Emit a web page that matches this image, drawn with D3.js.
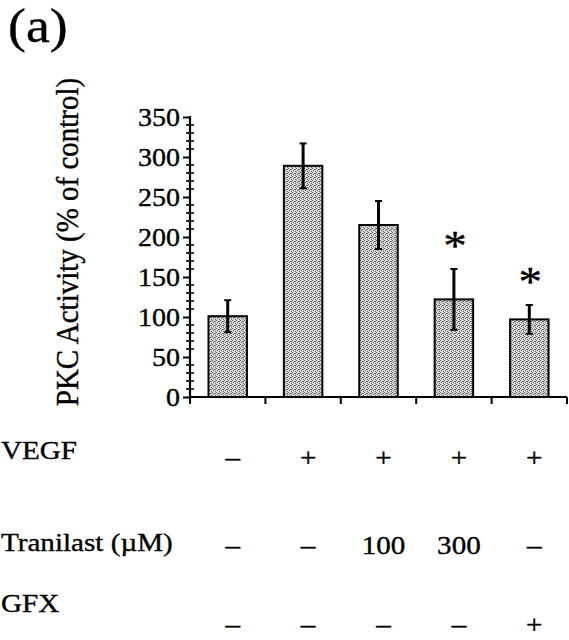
<!DOCTYPE html>
<html>
<head>
<meta charset="utf-8">
<script src="https://cdn.jsdelivr.net/npm/d3@7"></script>
<style>
  html, body { margin: 0; padding: 0; background: #fff; }
  svg { display: block; }
  text { font-family: "Liberation Serif", "Times New Roman", serif; fill: #000; stroke: #000; stroke-width: 0.35; }
</style>
</head>
<body>
<svg id="chart" width="569" height="640"></svg>
<script>
// ---- data ----
const groups = ["g1", "g2", "g3", "g4", "g5"];
const values = [101, 289, 215, 122, 97];
const errors = [20, 28, 30, 38, 18];
const significant = [false, false, false, true, true];
const yTicks = [0, 50, 100, 150, 200, 250, 300, 350];
const rowLabels = ["VEGF", "Tranilast (\u00B5M)", "GFX"];
const vegfRow = ["\u2013", "+", "+", "+", "+"];
const tranilastRow = ["\u2013", "\u2013", "100", "300", "\u2013"];
const gfxRow = ["\u2013", "\u2013", "\u2013", "\u2013", "+"];
const panelLabel = "(a)";
const yLabel = "PKC Activity (% of control)";

// ---- layout ----
const svg = d3.select("#chart");
const SX = 1.12; // horizontal stretch of type in the reference
const x = d3.scaleBand().domain(groups).range([190, 567]).paddingInner(0.49).paddingOuter(0.245);
const y = d3.scaleLinear().domain([0, 350]).range([397, 117]);

function stretchedText(g, tx, ty, str, size, anchor, rotate) {
  return g.append("text")
    .attr("transform", `translate(${tx},${ty})` + (rotate ? ` rotate(${rotate})` : "") + (rotate ? ` scale(1,${SX})` : ` scale(${SX},1)`))
    .attr("font-size", size)
    .attr("text-anchor", anchor)
    .text(str);
}

// pattern for stippled bars
const defs = svg.append("defs");
const pat = defs.append("pattern").attr("id", "stipple").attr("patternUnits", "userSpaceOnUse")
  .attr("width", 4).attr("height", 4);
pat.append("rect").attr("width", 4).attr("height", 4).attr("fill", "#d6d6d6");
[[0,0],[2,1],[1,2],[3,3],[3,1]].forEach(([px,py]) => {
  pat.append("rect").attr("x", px).attr("y", py).attr("width", 1).attr("height", 1).attr("fill", "#6a6a6a");
});

// panel label
stretchedText(svg, 8, 42, panelLabel, 48, "start");

// y axis label
stretchedText(svg, 78, 242, yLabel, 29, "middle", -90);

// y axis with major ticks
const yAxis = svg.append("g").attr("transform", "translate(190,0)")
  .call(d3.axisLeft(y).tickValues(yTicks).tickSize(7).tickSizeOuter(0).tickFormat(""));
yAxis.select(".domain").remove();
yAxis.selectAll(".tick line").attr("stroke", "#000").attr("stroke-width", 2);

// minor ticks
const minor = d3.range(0, 351, 10).filter(v => v % 50 !== 0);
svg.append("g").selectAll("line").data(minor).join("line")
  .attr("x1", 186).attr("x2", 194)
  .attr("y1", d => y(d)).attr("y2", d => y(d))
  .attr("stroke", "#000").attr("stroke-width", 1.6);

// tick labels
const tl = svg.append("g");
yTicks.forEach(v => stretchedText(tl, 180, y(v) + 9, String(v), 25, "end"));

// axis lines
const x0 = x.range()[0], x1 = x.range()[1];
svg.append("line").attr("x1", 190).attr("x2", 190).attr("y1", y(350) - 1).attr("y2", y(0) + 6)
  .attr("stroke", "#000").attr("stroke-width", 2.2);
svg.append("line").attr("x1", x0).attr("x2", x1).attr("y1", y(0)).attr("y2", y(0))
  .attr("stroke", "#000").attr("stroke-width", 2.2);
// category separators
const bounds = d3.range(groups.length + 1).map(i => x0 + i * x.step());
svg.append("g").selectAll("line").data(bounds).join("line")
  .attr("x1", d => d).attr("x2", d => d)
  .attr("y1", y(0)).attr("y2", y(0) + 7)
  .attr("stroke", "#000").attr("stroke-width", 2);

// bars
svg.append("g").selectAll("rect").data(groups).join("rect")
  .attr("x", d => x(d))
  .attr("y", (d, i) => y(values[i]))
  .attr("width", x.bandwidth())
  .attr("height", (d, i) => y(0) - y(values[i]))
  .attr("fill", "url(#stipple)")
  .attr("stroke", "#000").attr("stroke-width", 2);

// error bars
const eb = svg.append("g");
groups.forEach((g, i) => {
  const cx = x(g) + x.bandwidth() / 2;
  const top = y(values[i] + errors[i]);
  const bot = y(values[i] - errors[i]);
  eb.append("line").attr("x1", cx).attr("x2", cx).attr("y1", top).attr("y2", bot)
    .attr("stroke", "#000").attr("stroke-width", 3);
  [top, bot].forEach(yy => eb.append("line").attr("x1", cx - 3.5).attr("x2", cx + 3.5)
    .attr("y1", yy).attr("y2", yy).attr("stroke", "#000").attr("stroke-width", 2));
});

// significance asterisks
groups.forEach((g, i) => {
  if (!significant[i]) return;
  const cx = x(g) + x.bandwidth() / 2 + 1;
  stretchedText(svg, cx, y(values[i] + errors[i]) - 9, "*", 42, "middle");
});

// treatment table
const table = svg.append("g");
const labelBaselines = [459, 551, 612];
const rowBaselines = [466, 554, 633];
const rows = [vegfRow, tranilastRow, gfxRow];
rowLabels.forEach((lab, r) => stretchedText(table, 1, labelBaselines[r], lab, 26, "start"));
rows.forEach((row, r) => {
  row.forEach((s, i) => {
    const cx = x(groups[i]) + x.bandwidth() / 2 + 5;
    stretchedText(table, cx, rowBaselines[r], s, 26, "middle");
  });
});
</script>
</body>
</html>
